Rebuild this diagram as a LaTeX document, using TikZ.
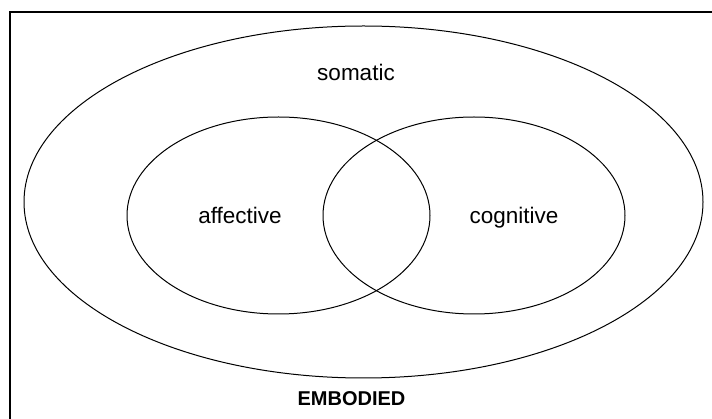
\documentclass[tikz,border=0pt]{standalone}
\usepackage{fontspec}
\setmainfont{Liberation Sans}
\usetikzlibrary{shapes.geometric}
\tikzset{
  setring/.style={ellipse, draw=black, line width=1pt, inner sep=0pt, outer sep=0pt},
  setlabel/.style={font=\fontsize{22.5}{26}\selectfont, inner sep=0pt, anchor=base},
  framebox/.style={draw=black, line width=2pt}
}
\begin{document}
\begin{tikzpicture}[x=1pt,y=-1pt]
\useasboundingbox (0,0) rectangle (712,419);
\clip (0,0) rectangle (712,419);
\fill[white] (0,0) rectangle (712,419);
\draw[framebox] (10,12) rectangle (760,460);
\node[setring, minimum width=679pt, minimum height=352pt] (outer) at (363.5,202) {};
\node[setring, minimum width=303pt, minimum height=197pt] (left) at (278.5,215.5) {};
\node[setring, minimum width=302pt, minimum height=197pt] (right) at (474,215.5) {};
\node[setlabel] (somatic) at (356,81) {somatic};
\node[setlabel] (affective) at (240,224) {affective};
\node[setlabel] (cognitive) at (514,224) {cognitive};
\node[setlabel, font=\fontsize{20}{24}\selectfont\bfseries] (embodied) at (351.5,405) {EMBODIED};
\end{tikzpicture}
\end{document}
